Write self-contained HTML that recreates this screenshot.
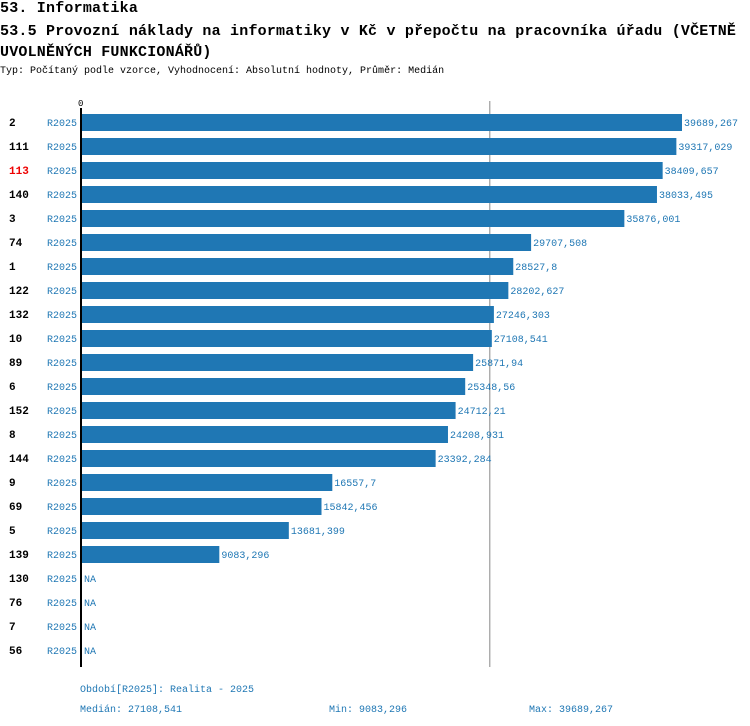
<!DOCTYPE html>
<html><head><meta charset="utf-8"><style>
body{margin:0;background:#fff;width:750px;height:726px;overflow:hidden;font-family:"Liberation Mono",monospace}
.t{position:absolute;left:0;font-size:15px;font-weight:bold;letter-spacing:0.2px;white-space:nowrap;color:#000}
</style></head><body>
<div class="t" style="top:0px">53. Informatika</div>
<div class="t" style="top:21px;line-height:21px">53.5 Provozní náklady na informatiky v Kč v přepočtu na pracovníka úřadu (VČETNĚ<br>UVOLNĚNÝCH FUNKCIONÁŘŮ)</div>
<div class="t" style="top:66px;font-size:10px;font-weight:normal;letter-spacing:0">Typ: Počítaný podle vzorce, Vyhodnocení: Absolutní hodnoty, Průměr: Medián</div>
<svg id="c" width="750" height="726" style="position:absolute;left:0;top:0" font-family="Liberation Mono, monospace"></svg>
<script>
const categories=["2","111","113","140","3","74","1","122","132","10","89","6","152","8","144","9","69","5","139","130","76","7","56"];
const periods=["R2025","R2025","R2025","R2025","R2025","R2025","R2025","R2025","R2025","R2025","R2025","R2025","R2025","R2025","R2025","R2025","R2025","R2025","R2025","R2025","R2025","R2025","R2025"];
const values=[39689.267,39317.029,38409.657,38033.495,35876.001,29707.508,28527.8,28202.627,27246.303,27108.541,25871.94,25348.56,24712.21,24208.931,23392.284,16557.7,15842.456,13681.399,9083.296,null,null,null,null];
const highlight="113";
const median=27108.541, minV=9083.296, maxV=39689.267;
const svg=document.getElementById('c');
const NS='http://www.w3.org/2000/svg';
const x0=82,W=600;
const xs=v=>x0+v*W/maxV;
const yc=i=>123+24*i;
function fmt(v){return String(v).replace('.',',');}
function el(tag,attrs,txt){const e=document.createElementNS(NS,tag);for(const k in attrs)e.setAttribute(k,attrs[k]);if(txt!==undefined)e.textContent=txt;svg.appendChild(e);return e;}
let ml=el('line',{x1:xs(median)-2,x2:xs(median)-2,y1:101,y2:667,stroke:'#888','stroke-width':1});


categories.forEach((c,i)=>{
  const y=yc(i);
  let t=el('text',{x:9,y:y+3,'font-size':11,'font-weight':'bold',fill:c===highlight?'#e00':'#000'},c);
  
  
  let p=el('text',{x:47,y:y+3,'font-size':10,fill:'#1f77b4'},periods[i]);
  
  
  const v=values[i];
  if(v!=null){
    let b=el('rect',{x:x0,y:y-9,width:xs(v)-x0,height:17,fill:'#1f77b4'});
    
    
    let vl=el('text',{x:xs(v)+2,y:y+3,'font-size':10,fill:'#1f77b4'},fmt(v));
    
    
  } else {
    let vl=el('text',{x:x0+2,y:y+3,'font-size':10,fill:'#1f77b4'},'NA');
    
    
  }
});
let ax=el('line',{x1:81,x2:81,y1:108,y2:667,stroke:'#000','stroke-width':2});


let zl=el('text',{x:78,y:106,'font-size':9,fill:'#000'},'0');


let f1=el('text',{x:80,y:692,'font-size':10,fill:'#1f77b4'},'Období[R2025]: Realita - 2025');


let f2=el('text',{x:80,y:712,'font-size':10,fill:'#1f77b4'},'Medián: '+fmt(median));


let f3=el('text',{x:329,y:712,'font-size':10,fill:'#1f77b4'},'Min: '+fmt(minV));


let f4=el('text',{x:529,y:712,'font-size':10,fill:'#1f77b4'},'Max: '+fmt(maxV));


</script>
</body></html>
